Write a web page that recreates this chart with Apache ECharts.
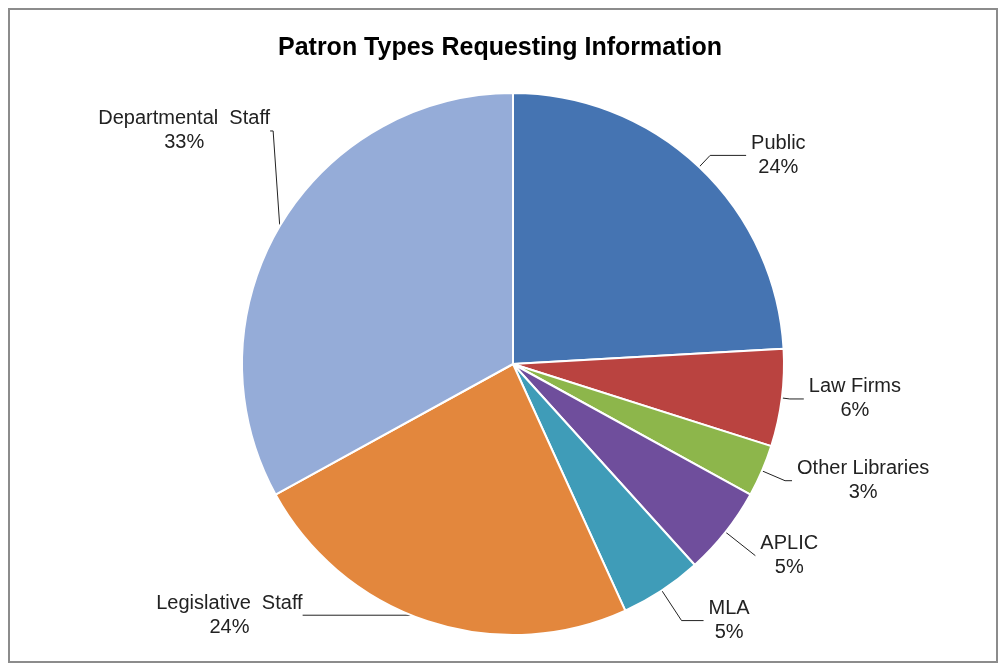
<!DOCTYPE html>
<html>
<head>
<meta charset="utf-8">
<script src="https://cdn.jsdelivr.net/npm/echarts@6/dist/echarts.min.js"></script>
<style>
  html, body { margin: 0; padding: 0; background: #fff; }
  #frame { position: absolute; left: 8px; top: 8px; width: 990px; height: 655px;
           border: 2px solid #8c8c8c; box-sizing: border-box; }
  #chart { position: absolute; left: 0; top: 0; width: 1000px; height: 667px; }
</style>
</head>
<body>
<div id="frame"></div>
<div id="chart"></div>
<script>
// Share of information requests by patron type (percent)
const categories = ['Public', 'Law Firms', 'Other Libraries', 'APLIC', 'MLA', 'Legislative  Staff', 'Departmental  Staff'];
const shares = [24.1, 5.8, 3.1, 5.3, 4.9, 23.8, 33.0];
const sliceColors = ['#4574B2', '#BA4340', '#8DB64B', '#6F4E9C', '#3F9CB8', '#E3873D', '#95ACD8'];
// leader line lengths per slice: [radial part, horizontal part]
const leaderLengths = [[16, 36], [8, 14], [25, 7], [38, 0], [36, 22], [0, 120], [10, 3]];
// labels lifted above their default spot (pixels), leader re-routed to them
const labelLift = { 5: 6, 6: 90 };

const chart = echarts.init(document.getElementById('chart'), null, { renderer: 'canvas' });

const font = 'Liberation Sans, Arial, sans-serif';

const data = categories.map((name, i) => ({
  name: name,
  value: shares[i],
  itemStyle: { color: sliceColors[i] },
  labelLine: { length: leaderLengths[i][0], length2: leaderLengths[i][1] }
}));

chart.setOption({
  animation: false,
  title: {
    text: 'Patron Types Requesting Information',
    left: 'center',
    top: 31,
    textStyle: { fontFamily: font, fontWeight: 'bold', fontSize: 25, color: '#000' }
  },
  series: [{
    type: 'pie',
    center: [513, 364],
    radius: 271,
    startAngle: 90,
    clockwise: true,
    avoidLabelOverlap: false,
    data: data,
    itemStyle: { borderColor: '#ffffff', borderWidth: 2 },
    label: {
      show: true,
      formatter: p => '{t|' + p.name + '}\n{t|' + Math.round(p.percent) + '%}',
      rich: {
        t: { align: 'center', fontFamily: font, fontSize: 20, color: '#222', lineHeight: 24 }
      },
      fontFamily: font,
      fontSize: 20,
      color: '#222'
    },
    labelLine: {
      show: true,
      lineStyle: { color: '#222', width: 1 }
    },
    labelLayout: p => {
      const lift = labelLift[p.dataIndex];
      if (lift == null) return {};
      const r = p.labelRect;
      return {
        x: r.x + r.width + (p.dataIndex === 6 ? 7 : 0),
        y: r.y + r.height / 2 - lift,
        align: 'right',
        verticalAlign: 'middle'
      };
    }
  }]
});
</script>
</body>
</html>
